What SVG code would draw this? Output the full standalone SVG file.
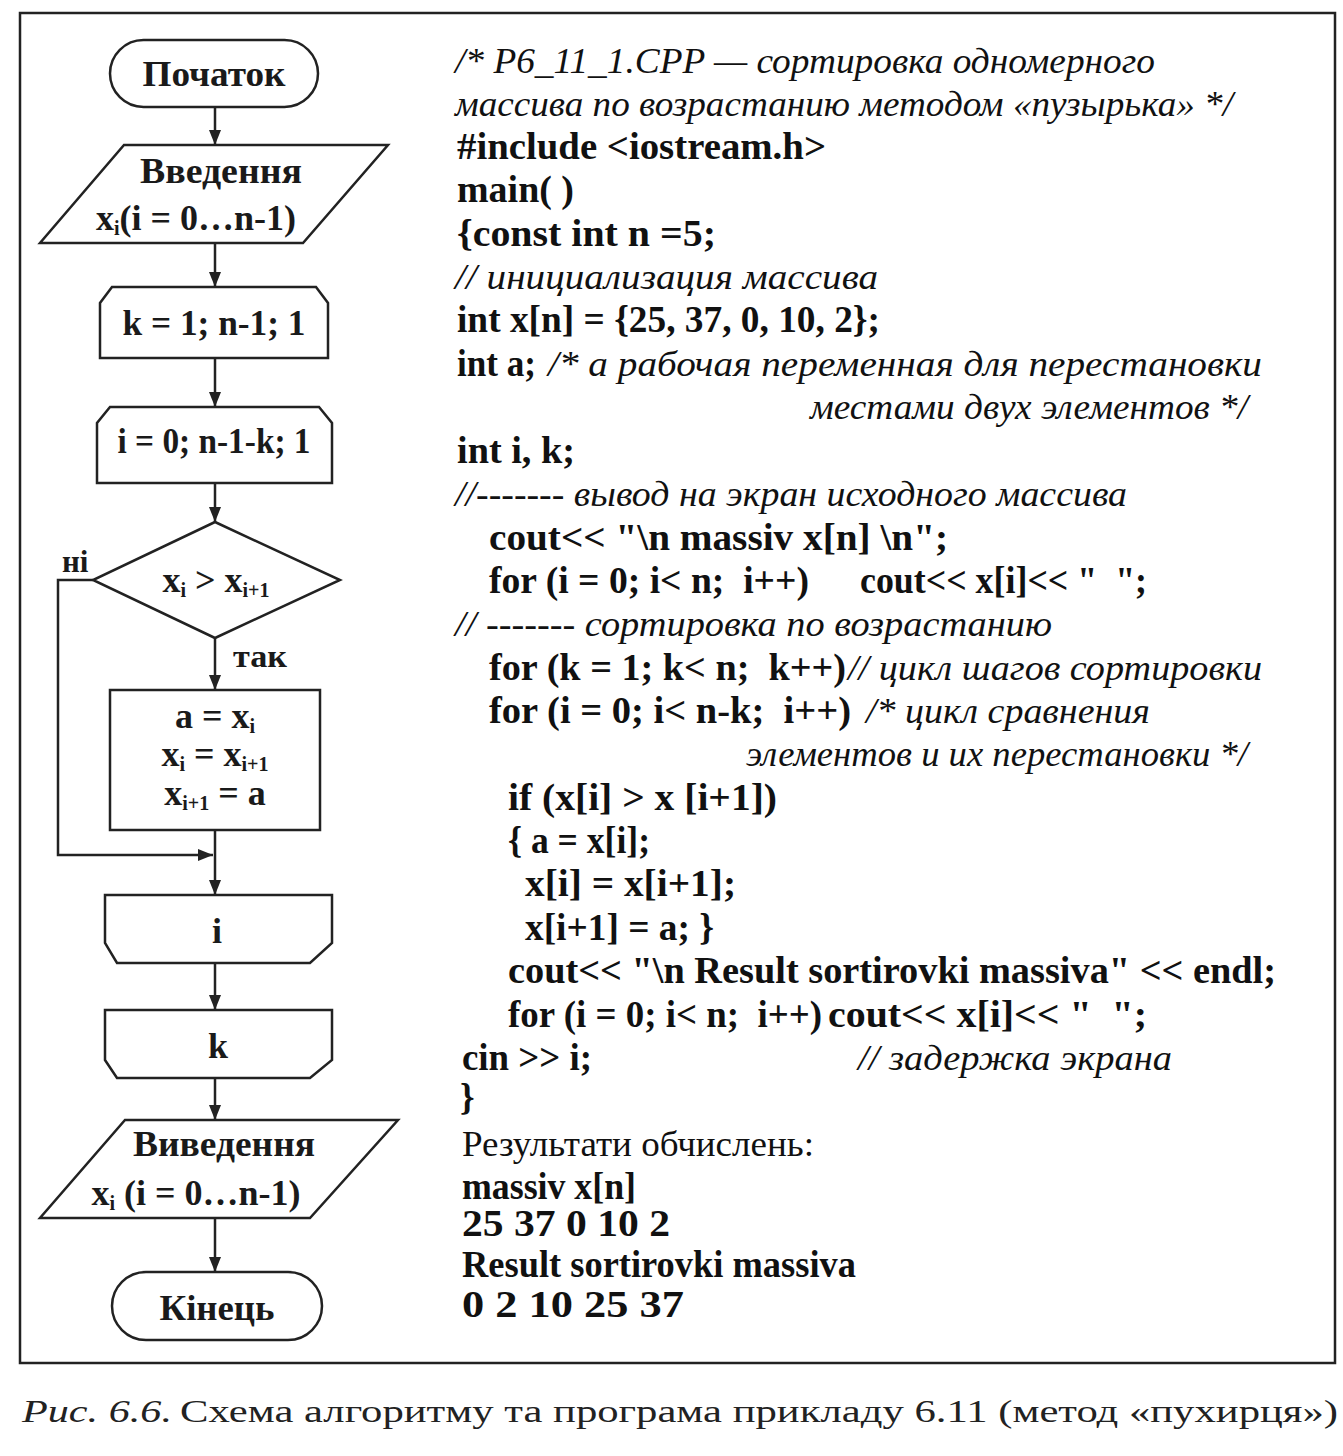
<svg xmlns="http://www.w3.org/2000/svg" width="1343" height="1456" viewBox="0 0 1343 1456">
<style>
.sh{fill:#fff;stroke:#222;stroke-width:2.5}
.ln{fill:none;stroke:#222;stroke-width:2.5}
.ft{font-family:"Liberation Serif",serif;font-weight:bold;font-size:36px;fill:#1a1a1a;text-anchor:middle}
.lb{font-family:"Liberation Serif",serif;font-weight:bold;font-size:31px;fill:#1a1a1a}
.cb{font-family:"Liberation Serif",serif;font-weight:bold;font-size:37px;fill:#111}
.ci{font-family:"Liberation Serif",serif;font-style:italic;font-size:36px;fill:#111}
.cr{font-family:"Liberation Serif",serif;font-size:35px;fill:#111}
.cap{font-family:"Liberation Serif",serif;font-size:31px;fill:#222}
.sub{font-size:20px}
</style>
<defs>
<marker id="ah" markerUnits="userSpaceOnUse" markerWidth="16" markerHeight="12" refX="15" refY="6" orient="auto">
<path d="M0,0 L15,6 L0,12 Z" fill="#222"/>
</marker>
</defs>
<rect width="1343" height="1456" fill="#fff"/>
<rect x="20" y="13" width="1315" height="1350" fill="none" stroke="#222" stroke-width="2.5"/>

<g id="connectors">
<line class="ln" x1="215" y1="107" x2="215" y2="145" marker-end="url(#ah)"/>
<line class="ln" x1="215" y1="243" x2="215" y2="287" marker-end="url(#ah)"/>
<line class="ln" x1="215" y1="358" x2="215" y2="407" marker-end="url(#ah)"/>
<line class="ln" x1="215" y1="483" x2="215" y2="522" marker-end="url(#ah)"/>
<line class="ln" x1="215" y1="638" x2="215" y2="690" marker-end="url(#ah)"/>
<line class="ln" x1="215" y1="830" x2="215" y2="895" marker-end="url(#ah)"/>
<polyline class="ln" points="93,580 58,580 58,855 213,855" marker-end="url(#ah)"/>
<line class="ln" x1="215" y1="963" x2="215" y2="1010" marker-end="url(#ah)"/>
<line class="ln" x1="215" y1="1078" x2="215" y2="1120" marker-end="url(#ah)"/>
<line class="ln" x1="215" y1="1218" x2="215" y2="1272" marker-end="url(#ah)"/>
<text class="lb" x="62" y="572">ні</text>
<text class="lb" x="233" y="667" textLength="54" lengthAdjust="spacingAndGlyphs">так</text>
</g>

<g id="start">
<rect class="sh" x="110" y="40" width="208" height="67" rx="33.5"/>
<text class="ft" x="214" y="86" textLength="143" lengthAdjust="spacingAndGlyphs">Початок</text>
</g>
<g id="input">
<polygon class="sh" points="124,145 388,145 303,243 40,243"/>
<text class="ft" x="221" y="183" textLength="162" lengthAdjust="spacingAndGlyphs">Введення</text>
<text class="ft" x="196" y="230">x<tspan class="sub" dy="5">i</tspan><tspan dy="-5">(i = 0…n-1)</tspan></text>
</g>
<g id="loop-k">
<path class="sh" d="M100,358 L100,303 L112,287 L316,287 L328,303 L328,358 Z"/>
<text class="ft" x="214" y="335" textLength="183" lengthAdjust="spacingAndGlyphs">k = 1; n-1; 1</text>
</g>
<g id="loop-i">
<path class="sh" d="M97,483 L97,423 L110,407 L319,407 L332,423 L332,483 Z"/>
<text class="ft" x="214" y="453" textLength="193" lengthAdjust="spacingAndGlyphs">i = 0; n-1-k; 1</text>
</g>
<g id="cond">
<polygon class="sh" points="215,522 340,580 215,638 93,580"/>
<text class="ft" x="216" y="592">x<tspan class="sub" dy="5">i</tspan><tspan dy="-5"> &gt; x</tspan><tspan class="sub" dy="5">i+1</tspan></text>
</g>
<g id="swap">
<rect class="sh" x="110" y="690" width="210" height="140"/>
<text class="ft" x="215" y="728">a = x<tspan class="sub" dy="5">i</tspan></text>
<text class="ft" x="215" y="766">x<tspan class="sub" dy="5">i</tspan><tspan dy="-5"> = x</tspan><tspan class="sub" dy="5">i+1</tspan></text>
<text class="ft" x="215" y="805">x<tspan class="sub" dy="5">i+1</tspan><tspan dy="-5"> = a</tspan></text>
</g>
<g id="end-i">
<path class="sh" d="M105,895 L332,895 L332,943 L310,963 L117,963 L105,943 Z"/>
<text class="ft" x="217" y="943">i</text>
</g>
<g id="end-k">
<path class="sh" d="M105,1010 L332,1010 L332,1060 L310,1078 L117,1078 L105,1060 Z"/>
<text class="ft" x="218" y="1058">k</text>
</g>
<g id="output">
<polygon class="sh" points="125,1120 398,1120 310,1218 40,1218"/>
<text class="ft" x="224" y="1156" textLength="182" lengthAdjust="spacingAndGlyphs">Виведення</text>
<text class="ft" x="196" y="1205">x<tspan class="sub" dy="5">i</tspan><tspan dy="-5"> (i = 0…n-1)</tspan></text>
</g>
<g id="end">
<rect class="sh" x="112" y="1272" width="210" height="68" rx="34"/>
<text class="ft" x="217" y="1320" textLength="115" lengthAdjust="spacingAndGlyphs">Кінець</text>
</g>

<g id="code">
<text class="ci" x="455" y="73" textLength="700" lengthAdjust="spacingAndGlyphs">/* P6_11_1.CPP — сортировка одномерного</text>
<text class="ci" x="455" y="116" textLength="778" lengthAdjust="spacingAndGlyphs">массива по возрастанию методом «пузырька» */</text>
<text class="cb" x="457" y="159" textLength="369" lengthAdjust="spacingAndGlyphs">#include &lt;iostream.h&gt;</text>
<text class="cb" x="457" y="202" textLength="117" lengthAdjust="spacingAndGlyphs">main( )</text>
<text class="cb" x="457" y="246" textLength="259" lengthAdjust="spacingAndGlyphs">{const int n =5;</text>
<text class="ci" x="455" y="289" textLength="423" lengthAdjust="spacingAndGlyphs">// инициализация массива</text>
<text class="cb" x="457" y="332" textLength="423" lengthAdjust="spacingAndGlyphs">int x[n] = {25, 37, 0, 10, 2};</text>
<text class="cb" x="457" y="376" textLength="79" lengthAdjust="spacingAndGlyphs">int a;</text>
<text class="ci" x="548" y="376" textLength="714" lengthAdjust="spacingAndGlyphs">/* a рабочая переменная для перестановки</text>
<text class="ci" x="810" y="419" textLength="438" lengthAdjust="spacingAndGlyphs">местами двух элементов */</text>
<text class="cb" x="457" y="463" textLength="118" lengthAdjust="spacingAndGlyphs">int i, k;</text>
<text class="ci" x="455" y="506" textLength="672" lengthAdjust="spacingAndGlyphs">//------- вывод на экран исходного массива</text>
<text class="cb" x="489" y="550" textLength="459" lengthAdjust="spacingAndGlyphs">cout&lt;&lt; "\n massiv x[n] \n";</text>
<text class="cb" x="489" y="593" textLength="320" lengthAdjust="spacingAndGlyphs" xml:space="preserve">for (i = 0; i&lt; n;  i++)</text>
<text class="cb" x="860" y="593" textLength="287" lengthAdjust="spacingAndGlyphs" xml:space="preserve">cout&lt;&lt; x[i]&lt;&lt; "  ";</text>
<text class="ci" x="455" y="636" textLength="597" lengthAdjust="spacingAndGlyphs">// ------- сортировка по возрастанию</text>
<text class="cb" x="489" y="680" textLength="357" lengthAdjust="spacingAndGlyphs" xml:space="preserve">for (k = 1; k&lt; n;  k++)</text>
<text class="ci" x="848" y="680" textLength="414" lengthAdjust="spacingAndGlyphs">// цикл шагов сортировки</text>
<text class="cb" x="489" y="723" textLength="362" lengthAdjust="spacingAndGlyphs" xml:space="preserve">for (i = 0; i&lt; n-k;  i++)</text>
<text class="ci" x="866" y="723" textLength="284" lengthAdjust="spacingAndGlyphs">/* цикл сравнения</text>
<text class="ci" x="746" y="766" textLength="502" lengthAdjust="spacingAndGlyphs">элементов и их перестановки */</text>
<text class="cb" x="508" y="810" textLength="269" lengthAdjust="spacingAndGlyphs">if (x[i] &gt; x [i+1])</text>
<text class="cb" x="508" y="853" textLength="142" lengthAdjust="spacingAndGlyphs">{ a = x[i];</text>
<text class="cb" x="525" y="896" textLength="211" lengthAdjust="spacingAndGlyphs">x[i] = x[i+1];</text>
<text class="cb" x="525" y="940" textLength="189" lengthAdjust="spacingAndGlyphs">x[i+1] = a; }</text>
<text class="cb" x="508" y="983" textLength="768" lengthAdjust="spacingAndGlyphs">cout&lt;&lt; "\n Result sortirovki massiva" &lt;&lt; endl;</text>
<text class="cb" x="508" y="1027" textLength="314" lengthAdjust="spacingAndGlyphs" xml:space="preserve">for (i = 0; i&lt; n;  i++)</text>
<text class="cb" x="828" y="1027" textLength="319" lengthAdjust="spacingAndGlyphs" xml:space="preserve">cout&lt;&lt; x[i]&lt;&lt; "  ";</text>
<text class="cb" x="462" y="1070" textLength="130" lengthAdjust="spacingAndGlyphs">cin &gt;&gt; i;</text>
<text class="ci" x="858" y="1070" textLength="314" lengthAdjust="spacingAndGlyphs">// задержка экрана</text>
<text class="cb" x="460" y="1110">}</text>
<text class="cr" x="462" y="1156" textLength="352" lengthAdjust="spacingAndGlyphs">Результати обчислень:</text>
<text class="cb" x="462" y="1199" textLength="174" lengthAdjust="spacingAndGlyphs">massiv x[n]</text>
<text class="cb" x="462" y="1236" textLength="208" lengthAdjust="spacingAndGlyphs">25 37 0 10 2</text>
<text class="cb" x="462" y="1277" textLength="394" lengthAdjust="spacingAndGlyphs">Result sortirovki massiva</text>
<text class="cb" x="462" y="1317" textLength="222" lengthAdjust="spacingAndGlyphs">0 2 10 25 37</text>
</g>

<g id="caption">
<text class="cap" x="22" y="1422" font-style="italic" fill="#555" textLength="150" lengthAdjust="spacingAndGlyphs">Рис. 6.6.</text>
<text class="cap" x="180" y="1422" textLength="1158" lengthAdjust="spacingAndGlyphs">Схема алгоритму та програма прикладу 6.11 (метод «пухирця»)</text>
</g>
</svg>
